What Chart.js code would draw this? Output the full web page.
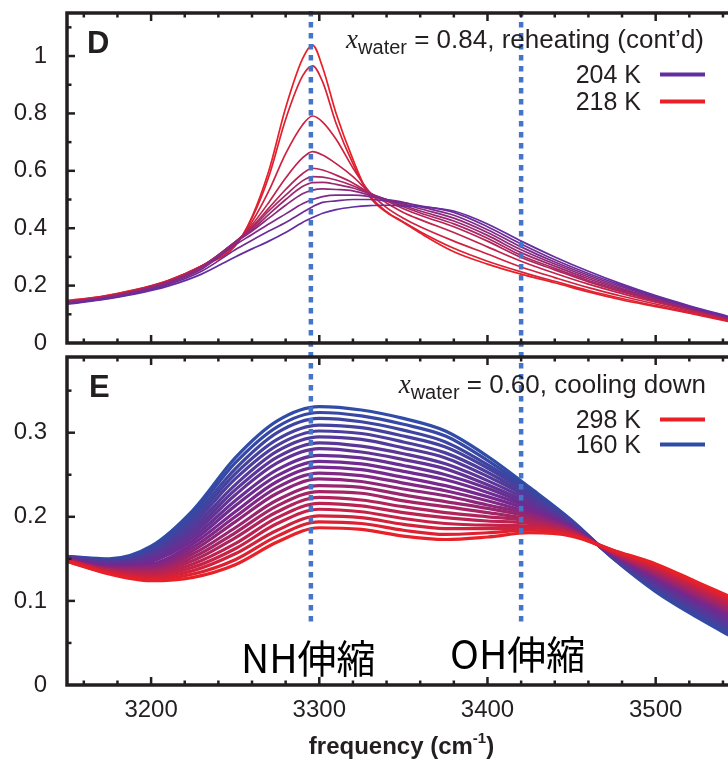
<!DOCTYPE html>
<html>
<head>
<meta charset="utf-8">
<script src="https://cdn.jsdelivr.net/npm/chart.js@4.4.1/dist/chart.umd.min.js"></script>
<style>
  html, body { margin: 0; padding: 0; background: #fff; }
  #wrap { position: relative; width: 728px; height: 763px; overflow: hidden; }
  #wrap canvas { position: absolute; left: 0; }
  #cD { top: 0; }
  #cE { top: 345px; }
</style>
</head>
<body>
<div id="wrap">
  <canvas id="cD" width="728" height="360"></canvas>
  <canvas id="cE" width="728" height="418"></canvas>
</div>
<script>
// --------------------------------------------------------------------------
// data
// --------------------------------------------------------------------------
// panel D: x_water = 0.84, reheating, 204 K (first) -> 218 K (last)
const freqD = [3150, 3170, 3190, 3210, 3230, 3250, 3260, 3270, 3280, 3290, 3296, 3302, 3310,
  3320, 3330, 3340, 3350, 3360, 3380, 3400, 3420, 3440, 3460, 3480, 3500, 3520, 3545];
const curvesD = [
  [0.135,0.150,0.170,0.198,0.240,0.300,0.328,0.355,0.385,0.420,0.437,0.452,0.465,0.474,0.479,0.480,0.478,0.475,0.460,0.415,0.355,0.300,0.250,0.205,0.165,0.130,0.090],
  [0.137,0.152,0.173,0.203,0.250,0.325,0.358,0.390,0.420,0.455,0.475,0.490,0.495,0.500,0.500,0.495,0.488,0.478,0.455,0.405,0.345,0.290,0.242,0.200,0.161,0.127,0.088],
  [0.138,0.153,0.175,0.207,0.257,0.342,0.378,0.415,0.450,0.485,0.500,0.510,0.515,0.515,0.510,0.500,0.490,0.475,0.445,0.395,0.335,0.282,0.236,0.195,0.158,0.125,0.087],
  [0.140,0.155,0.177,0.210,0.262,0.350,0.390,0.435,0.480,0.520,0.533,0.537,0.535,0.530,0.515,0.500,0.485,0.468,0.435,0.385,0.325,0.275,0.230,0.190,0.155,0.123,0.086],
  [0.141,0.156,0.179,0.212,0.265,0.352,0.395,0.448,0.500,0.545,0.559,0.560,0.553,0.540,0.520,0.500,0.480,0.460,0.425,0.375,0.315,0.268,0.224,0.186,0.152,0.121,0.085],
  [0.142,0.157,0.180,0.213,0.266,0.352,0.400,0.460,0.515,0.565,0.580,0.578,0.568,0.548,0.522,0.498,0.475,0.453,0.415,0.365,0.305,0.260,0.218,0.182,0.149,0.119,0.084],
  [0.143,0.158,0.181,0.214,0.267,0.352,0.405,0.470,0.535,0.590,0.609,0.603,0.585,0.558,0.522,0.495,0.468,0.445,0.405,0.355,0.298,0.255,0.213,0.178,0.146,0.117,0.083],
  [0.144,0.159,0.182,0.215,0.268,0.350,0.412,0.490,0.575,0.645,0.667,0.655,0.625,0.580,0.525,0.488,0.455,0.430,0.385,0.335,0.285,0.243,0.205,0.172,0.142,0.114,0.081],
  [0.145,0.160,0.183,0.216,0.268,0.345,0.422,0.530,0.660,0.760,0.791,0.770,0.710,0.610,0.525,0.472,0.435,0.405,0.355,0.310,0.265,0.228,0.193,0.163,0.136,0.110,0.078],
  [0.147,0.161,0.184,0.217,0.268,0.340,0.435,0.580,0.780,0.930,0.966,0.910,0.765,0.625,0.515,0.458,0.422,0.388,0.330,0.285,0.248,0.215,0.183,0.155,0.130,0.106,0.075],
  [0.148,0.162,0.185,0.218,0.268,0.338,0.440,0.600,0.820,0.990,1.038,0.960,0.800,0.640,0.510,0.455,0.420,0.383,0.318,0.275,0.240,0.210,0.178,0.150,0.127,0.104,0.073],
];

// panel E: x_water = 0.60, cooling down, 298 K (first) -> 160 K (last)
const freqE = [3150, 3175, 3200, 3225, 3250, 3275, 3300, 3325, 3350, 3375, 3400, 3425, 3450, 3475, 3500, 3525, 3550];
const curvesE = [
  [.147,.132,.124,.128,.143,.170,.187,.185,.177,.173,.176,.181,.177,.160,.144,.122,.100],
  [.147,.133,.126,.132,.149,.177,.194,.192,.184,.179,.181,.184,.178,.160,.142,.120,.098],
  [.148,.134,.128,.136,.156,.184,.201,.199,.191,.186,.186,.186,.179,.159,.141,.118,.095],
  [.148,.135,.130,.140,.162,.192,.209,.206,.198,.192,.190,.189,.180,.158,.139,.116,.093],
  [.148,.136,.132,.144,.168,.199,.216,.213,.205,.199,.195,.192,.181,.158,.137,.114,.090],
  [.148,.137,.134,.148,.175,.206,.223,.220,.212,.205,.200,.195,.182,.157,.136,.112,.088],
  [.149,.137,.136,.152,.181,.213,.230,.228,.219,.212,.205,.197,.183,.157,.134,.109,.086],
  [.149,.138,.138,.156,.187,.220,.237,.235,.226,.218,.210,.200,.184,.156,.132,.107,.083],
  [.149,.139,.140,.160,.194,.228,.245,.242,.233,.225,.214,.203,.185,.156,.131,.105,.081],
  [.150,.140,.142,.164,.200,.235,.252,.249,.240,.231,.219,.205,.186,.155,.129,.103,.078],
  [.150,.141,.144,.168,.206,.242,.259,.256,.247,.237,.224,.208,.186,.155,.128,.101,.076],
  [.150,.142,.147,.172,.213,.249,.266,.263,.254,.244,.229,.211,.187,.154,.126,.099,.074],
  [.151,.143,.149,.176,.219,.256,.273,.270,.261,.250,.234,.213,.188,.154,.124,.097,.071],
  [.151,.144,.151,.180,.226,.264,.281,.277,.268,.257,.238,.216,.189,.153,.123,.095,.069],
  [.151,.145,.153,.184,.232,.271,.288,.284,.275,.263,.243,.219,.190,.153,.121,.093,.066],
  [.152,.146,.155,.188,.238,.278,.295,.292,.282,.270,.248,.222,.191,.152,.119,.091,.064],
  [.152,.146,.157,.192,.245,.285,.302,.299,.289,.276,.253,.224,.192,.152,.118,.088,.062],
  [.152,.147,.159,.196,.251,.292,.309,.306,.296,.283,.258,.227,.193,.151,.116,.086,.059],
  [.152,.148,.161,.200,.257,.300,.317,.313,.303,.289,.262,.230,.194,.151,.114,.084,.057],
  [.153,.149,.163,.204,.264,.307,.324,.320,.310,.296,.267,.232,.195,.150,.113,.082,.054],
  [.153,.150,.165,.208,.270,.314,.331,.327,.317,.302,.272,.235,.196,.150,.111,.080,.052],
];

const xTicks = [3200, 3300, 3400, 3500];
const xLabels = ['3200', '3300', '3400', '3500'];
const yTicksD = [0, 0.2, 0.4, 0.6, 0.8, 1];
const yLabelsD = ['0', '0.2', '0.4', '0.6', '0.8', '1'];
const yTicksE = [0, 0.1, 0.2, 0.3];
const yLabelsE = ['0', '0.1', '0.2', '0.3'];
const legendD = ['204 K', '218 K'];
const legendE = ['298 K', '160 K'];
const markFreqs = [3295, 3420];          // NH / OH stretch guide lines
const markLabels = ['NH伸縮', 'OH伸縮'];

// --------------------------------------------------------------------------
// look
// --------------------------------------------------------------------------
const INK = '#231f20';
const SANS = "'Liberation Sans', Arial, sans-serif";
const E_TOP = 345;           // page offset of the lower canvas
const GUIDE_TOP = 11;        // page y where the dotted guides start
const PURPLE = [100, 45, 160], RED = [232, 32, 40], VIOLET = [118, 40, 142], BLUE = [48, 76, 166];

function mix(a, b, t) {
  return `rgb(${a.map((v, i) => Math.round(v + (b[i] - v) * t)).join(',')})`;
}
const colorD = (i) => mix(PURPLE, RED, i / (curvesD.length - 1));
const colorE = (i) => {
  const t = i / (curvesE.length - 1);
  return t < 0.5 ? mix(RED, VIOLET, t * 2) : mix(VIOLET, BLUE, (t - 0.5) * 2);
};

// frame + inside ticks, gnuplot style
const framePlugin = {
  id: 'frame',
  afterDraw(chart, args, opts) {
    const { ctx, chartArea: a, scales: { x, y } } = chart;
    ctx.save();
    ctx.strokeStyle = INK;
    ctx.lineWidth = 3.5;
    ctx.beginPath();
    ctx.moveTo(a.right + 4, a.top);
    ctx.lineTo(a.left, a.top);
    ctx.lineTo(a.left, a.bottom);
    ctx.lineTo(a.right + 4, a.bottom);
    ctx.stroke();
    ctx.lineWidth = 2.5;
    for (let f = 3160; f <= 3540; f += 20) {
      const px = x.getPixelForValue(f);
      const len = f % 100 === 0 ? 8 : 4.5;
      ctx.beginPath();
      ctx.moveTo(px, a.bottom); ctx.lineTo(px, a.bottom - len);
      ctx.moveTo(px, a.top); ctx.lineTo(px, a.top + len);
      ctx.stroke();
    }
    for (let k = 1; k * opts.minor < y.max; k++) {
      const v = k * opts.minor;
      const py = y.getPixelForValue(v);
      const r = v / opts.major;
      const len = Math.abs(r - Math.round(r)) < 1e-6 ? 8 : 4.5;
      ctx.beginPath();
      ctx.moveTo(a.left, py); ctx.lineTo(a.left + len, py);
      ctx.stroke();
    }
    ctx.restore();
  },
};

// dotted blue guides, drawn in page coordinates so both canvases line up
const guidePlugin = {
  id: 'guides',
  afterDatasetsDraw(chart, args, opts) {
    const { ctx, scales: { x, y } } = chart;
    const yEnd = opts.endValue != null ? y.getPixelForValue(opts.endValue) : chart.height;
    ctx.save();
    ctx.strokeStyle = '#4575c8';
    ctx.lineWidth = 4.5;
    ctx.setLineDash([5.5, 5.5]);
    markFreqs.forEach(f => {
      const px = x.getPixelForValue(f);
      ctx.beginPath();
      ctx.moveTo(px, GUIDE_TOP - opts.offset);
      ctx.lineTo(px, yEnd);
      ctx.stroke();
    });
    ctx.restore();
  },
};

function drawHeading(ctx, right, base, rest) {
  const parts = [
    { t: 'x', f: "italic 27px 'Liberation Serif', 'Times New Roman', serif", dy: 0 },
    { t: 'water', f: `20px ${SANS}`, dy: 6 },
    { t: rest, f: `26px ${SANS}`, dy: 0 },
  ];
  let w = 0;
  parts.forEach(p => { ctx.font = p.f; p.w = ctx.measureText(p.t).width; w += p.w; });
  let cx = right - w;
  ctx.textAlign = 'left';
  ctx.textBaseline = 'alphabetic';
  parts.forEach(p => { ctx.font = p.f; ctx.fillText(p.t, cx, base + p.dy); cx += p.w; });
}

function drawLegend(ctx, labels, colors, bases) {
  ctx.font = `25px ${SANS}`;
  ctx.textAlign = 'right';
  labels.forEach((lab, i) => {
    ctx.fillStyle = INK;
    ctx.fillText(lab, 641, bases[i]);
    ctx.strokeStyle = colors[i];
    ctx.lineWidth = 4;
    ctx.beginPath();
    ctx.moveTo(660, bases[i] - 8.5);
    ctx.lineTo(705, bases[i] - 8.5);
    ctx.stroke();
  });
}

const notesD = {
  id: 'notesD',
  afterDraw(chart) {
    const { ctx } = chart;
    ctx.save();
    ctx.fillStyle = INK;
    ctx.font = `bold 31px ${SANS}`;
    ctx.fillText('D', 87, 53);
    drawHeading(ctx, 704, 48, ' = 0.84, reheating (cont’d)');
    drawLegend(ctx, legendD, [colorD(0), colorD(curvesD.length - 1)], [83, 110]);
    ctx.restore();
  },
};

const notesE = {
  id: 'notesE',
  afterDraw(chart) {
    const { ctx, chartArea: a } = chart;
    ctx.save();
    ctx.fillStyle = INK;
    ctx.font = `bold 31px ${SANS}`;
    ctx.fillText('E', 89, 52);
    drawHeading(ctx, 706, 48, ' = 0.60, cooling down');
    drawLegend(ctx, legendE, [colorE(0), colorE(curvesE.length - 1)], [83, 108]);

    ctx.fillStyle = '#000';
    ctx.font = "39px 'Noto Sans CJK JP', 'Noto Sans', sans-serif";
    ctx.textAlign = 'left';
    ctx.fillText(markLabels[0], 241, 328);
    ctx.fillText(markLabels[1], 450, 324);

    // axis title with real superscript
    const base = 409;
    ctx.fillStyle = INK;
    ctx.font = `bold 24px ${SANS}`;
    const w1 = ctx.measureText('frequency (cm').width;
    ctx.font = `bold 15px ${SANS}`;
    const w2 = ctx.measureText('-1').width;
    ctx.font = `bold 24px ${SANS}`;
    const w3 = ctx.measureText(')').width;
    let cx = (a.left + a.right) / 2 + 4 - (w1 + w2 + w3) / 2;
    ctx.textAlign = 'left';
    ctx.fillText('frequency (cm', cx, base); cx += w1;
    ctx.font = `bold 15px ${SANS}`;
    ctx.fillText('-1', cx, base - 11); cx += w2;
    ctx.font = `bold 24px ${SANS}`;
    ctx.fillText(')', cx, base);
    ctx.restore();
  },
};

function lineSets(freqs, curves, colorFn, width) {
  return curves.map((row, i) => ({
    label: 'curve ' + i,
    data: row.map((v, j) => ({ x: freqs[j], y: v })),
    borderColor: colorFn(i),
    borderWidth: width,
    pointRadius: 0,
    fill: false,
    cubicInterpolationMode: 'monotone',
  }));
}

// scales must not reserve room for half-labels at their ends
function noEndPadding(s) {
  s.paddingTop = 0; s.paddingBottom = 0; s.paddingLeft = 0; s.paddingRight = 0;
}

function yAxis(max, ticks, labels) {
  return {
    min: 0, max,
    afterFit: (s) => { s.width = 67; noEndPadding(s); },
    afterBuildTicks: (s) => { s.ticks = ticks.map(v => ({ value: v })); },
    ticks: { padding: 20, color: INK, font: { family: SANS, size: 24 }, callback: (v, i) => labels[i] },
    grid: { display: false, drawTicks: false },
    border: { display: false },
  };
}

Chart.defaults.font.family = SANS;

new Chart(document.getElementById('cD'), {
  type: 'line',
  data: { datasets: lineSets(freqD, curvesD, colorD, 1.7) },
  options: {
    responsive: false, animation: false, events: [],
    layout: { padding: { top: 13, bottom: 17, left: 0, right: 0 } },
    plugins: {
      legend: { display: false }, tooltip: { enabled: false },
      frame: { minor: 0.1, major: 0.2 },
      guides: { offset: 0, endValue: null },
    },
    scales: {
      x: { type: 'linear', min: 3150, max: 3543, display: false },
      y: yAxis(1.15, yTicksD, yLabelsD),
    },
  },
  plugins: [framePlugin, guidePlugin, notesD],
});

new Chart(document.getElementById('cE'), {
  type: 'line',
  data: { datasets: lineSets(freqE, curvesE, colorE, 3.2) },
  options: {
    responsive: false, animation: false, events: [],
    layout: { padding: { top: 12, bottom: 0, left: 0, right: 0 } },
    plugins: {
      legend: { display: false }, tooltip: { enabled: false },
      frame: { minor: 0.05, major: 0.1 },
      guides: { offset: E_TOP, endValue: 0.072 },
    },
    scales: {
      x: {
        type: 'linear', min: 3150, max: 3543,
        afterFit: (s) => { s.height = 78; noEndPadding(s); },
        afterBuildTicks: (s) => { s.ticks = xTicks.map(v => ({ value: v })); },
        ticks: { padding: 11, color: INK, maxRotation: 0, autoSkip: false, font: { family: SANS, size: 24 }, callback: (v, i) => xLabels[i] },
        grid: { display: false, drawTicks: false },
        border: { display: false },
      },
      y: yAxis(0.39, yTicksE, yLabelsE),
    },
  },
  plugins: [framePlugin, guidePlugin, notesE],
});
</script>
</body>
</html>
